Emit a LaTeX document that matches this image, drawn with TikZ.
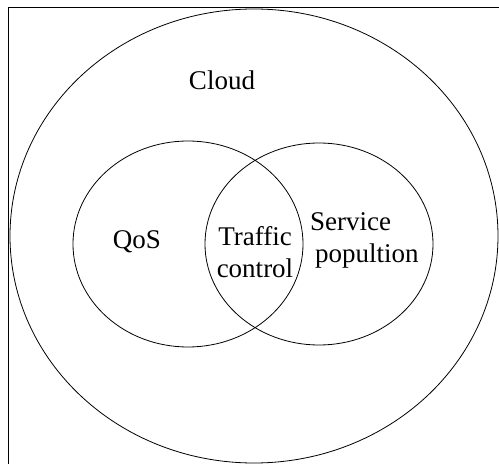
\documentclass[tikz,border=0pt]{standalone}
\usepackage{fontspec}
\setmainfont{Liberation Serif}
\usetikzlibrary{positioning}

\begin{document}
\begin{tikzpicture}[x=1pt,y=1pt,
    every node/.style={font=\fontsize{27}{32}\selectfont, inner sep=0pt},
    set/.style={draw, line width=0.8pt}]

    \useasboundingbox (0,0) rectangle (499,464);
    % frame
    \draw[line width=0.9pt] (8,0) |- (499,457);

    % sets
    \draw[set] (254,228) ellipse [x radius=244, y radius=227];
    \draw[set] (188,220) ellipse [x radius=115, y radius=103];
    \draw[set] (319,220) ellipse [x radius=114, y radius=101];

    % labels
    \node (cloud) at (222,384) {Cloud};
    \node (qos) at (137,222) {QoS};
    \node[align=center] (traffic) at (255,212) {Traffic\\control};
    \node[align=left, anchor=west] (service) at (310,224) {Service\\\hspace{5pt}popultion};
\end{tikzpicture}
\end{document}
